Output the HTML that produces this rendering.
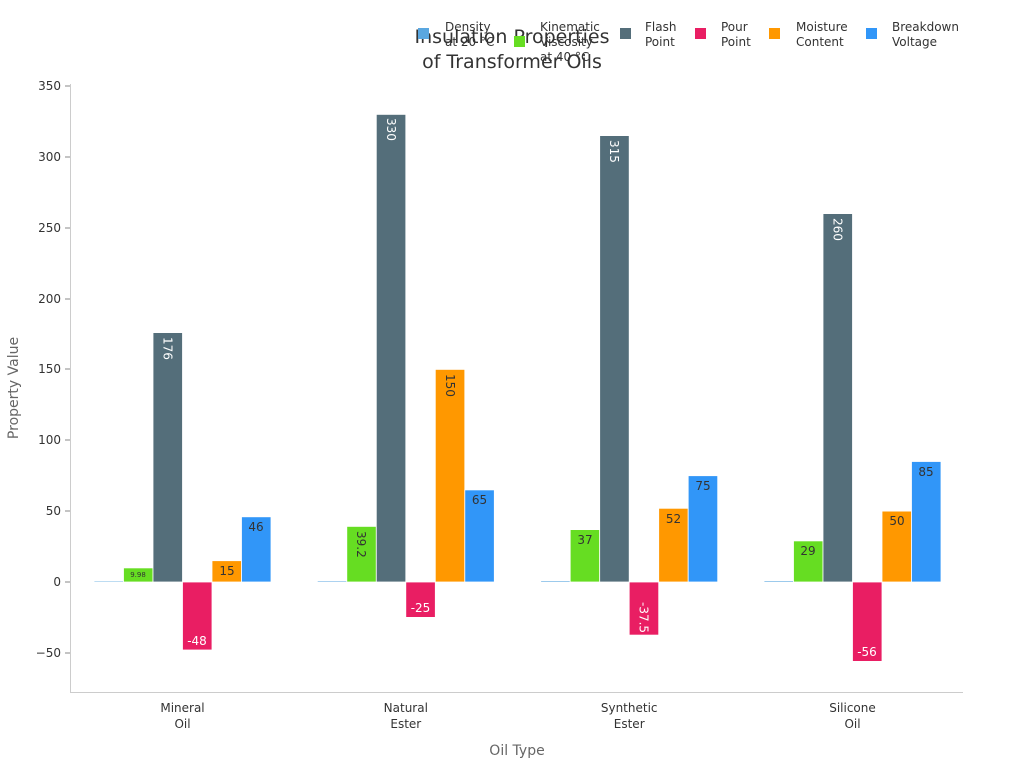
<!DOCTYPE html>
<html><head><meta charset="utf-8"><style>
body{margin:0;background:#fff;}
svg{display:block;font-family:"DejaVu Sans","Liberation Sans",sans-serif;}
</style></head><body>
<svg width="1024" height="768" viewBox="0 0 1024 768" xmlns="http://www.w3.org/2000/svg">
<rect width="1024" height="768" fill="#fff"/>
<line x1="70.5" y1="84" x2="70.5" y2="692" stroke="#ccc"/>
<line x1="70" y1="692.5" x2="963" y2="692.5" stroke="#ccc"/>
<g font-size="12" fill="#333" text-anchor="end">
<line x1="65" x2="70" y1="86" y2="86" stroke="#888"/><text x="61" y="90">350</text>
<line x1="65" x2="70" y1="157" y2="157" stroke="#888"/><text x="61" y="161">300</text>
<line x1="65" x2="70" y1="228" y2="228" stroke="#888"/><text x="61" y="232">250</text>
<line x1="65" x2="70" y1="299" y2="299" stroke="#888"/><text x="61" y="303">200</text>
<line x1="65" x2="70" y1="369" y2="369" stroke="#888"/><text x="61" y="373">150</text>
<line x1="65" x2="70" y1="440" y2="440" stroke="#888"/><text x="61" y="444">100</text>
<line x1="65" x2="70" y1="511" y2="511" stroke="#888"/><text x="61" y="515">50</text>
<line x1="65" x2="70" y1="582" y2="582" stroke="#888"/><text x="61" y="586">0</text>
<line x1="65" x2="70" y1="653" y2="653" stroke="#888"/><text x="61" y="657">−50</text>
</g>
<g font-size="12" fill="#333" text-anchor="middle">
<text x="182.5" y="712">Mineral</text><text x="182.5" y="728">Oil</text>
<text x="405.8" y="712">Natural</text><text x="405.8" y="728">Ester</text>
<text x="629.2" y="712">Synthetic</text><text x="629.2" y="728">Ester</text>
<text x="852.5" y="712">Silicone</text><text x="852.5" y="728">Oil</text>
</g>
<text x="517" y="755" font-size="14" fill="#666" text-anchor="middle">Oil Type</text>
<text transform="translate(18,388) rotate(-90)" font-size="14" fill="#666" text-anchor="middle">Property Value</text>
<g stroke="#fff" stroke-width="0.8">
<rect x="94" y="580.8" width="29.5" height="1.2" fill="#5aa7e0"/>
<rect x="123.5" y="567.9" width="29.5" height="14.1" fill="#66dd22"/>
<rect x="153" y="332.6" width="29.5" height="249.4" fill="#546e7a"/>
<rect x="182.5" y="582" width="29.5" height="68" fill="#e91e63"/>
<rect x="212" y="560.7" width="29.5" height="21.3" fill="#ff9800"/>
<rect x="241.5" y="516.8" width="29.5" height="65.2" fill="#3196f8"/>

<rect x="317.3" y="580.7" width="29.5" height="1.3" fill="#5aa7e0"/>
<rect x="346.8" y="526.4" width="29.5" height="55.6" fill="#66dd22"/>
<rect x="376.3" y="114.4" width="29.5" height="467.6" fill="#546e7a"/>
<rect x="405.8" y="582" width="29.5" height="35.4" fill="#e91e63"/>
<rect x="435.3" y="369.4" width="29.5" height="212.6" fill="#ff9800"/>
<rect x="464.8" y="489.9" width="29.5" height="92.1" fill="#3196f8"/>

<rect x="540.7" y="580.6" width="29.5" height="1.4" fill="#5aa7e0"/>
<rect x="570.2" y="529.6" width="29.5" height="52.4" fill="#66dd22"/>
<rect x="599.7" y="135.6" width="29.5" height="446.4" fill="#546e7a"/>
<rect x="629.2" y="582" width="29.5" height="53.1" fill="#e91e63"/>
<rect x="658.7" y="508.3" width="29.5" height="73.7" fill="#ff9800"/>
<rect x="688.2" y="475.7" width="29.5" height="106.3" fill="#3196f8"/>

<rect x="764" y="580.6" width="29.5" height="1.4" fill="#5aa7e0"/>
<rect x="793.5" y="540.9" width="29.5" height="41.1" fill="#66dd22"/>
<rect x="823" y="213.6" width="29.5" height="368.4" fill="#546e7a"/>
<rect x="852.5" y="582" width="29.5" height="79.4" fill="#e91e63"/>
<rect x="882" y="511.1" width="29.5" height="70.9" fill="#ff9800"/>
<rect x="911.5" y="461.5" width="29.5" height="120.5" fill="#3196f8"/>
</g>
<g font-size="12" text-anchor="middle">
<text x="138" y="577" font-size="7" fill="#333">9.98</text>
<text transform="translate(163.5,337) rotate(90)" fill="#fff" text-anchor="start">176</text>
<text x="197" y="645" fill="#fff">-48</text>
<text x="227" y="575" fill="#333">15</text>
<text x="256" y="531" fill="#333">46</text>

<text transform="translate(357,531) rotate(90)" fill="#333" text-anchor="start">39.2</text>
<text transform="translate(386.8,118) rotate(90)" fill="#fff" text-anchor="start">330</text>
<text x="420.5" y="612" fill="#fff">-25</text>
<text transform="translate(445.8,374) rotate(90)" fill="#333" text-anchor="start">150</text>
<text x="479.5" y="504" fill="#333">65</text>

<text x="585" y="544" fill="#333">37</text>
<text transform="translate(610.2,140) rotate(90)" fill="#fff" text-anchor="start">315</text>
<text transform="translate(639.7,602) rotate(90)" fill="#fff" text-anchor="start">-37.5</text>
<text x="673.5" y="523" fill="#333">52</text>
<text x="703" y="490" fill="#333">75</text>

<text x="808" y="555" fill="#333">29</text>
<text transform="translate(833.5,218) rotate(90)" fill="#fff" text-anchor="start">260</text>
<text x="867" y="656" fill="#fff">-56</text>
<text x="897" y="525" fill="#333">50</text>
<text x="926" y="476" fill="#333">85</text>
</g>
<g font-size="19" fill="#333" text-anchor="middle">
<text x="512" y="43">Insulation Properties</text>
<text x="512" y="68">of Transformer Oils</text>
</g>
<g font-size="12" fill="#333">
<rect x="418" y="28" width="11" height="11" fill="#5aa7e0"/><text x="445" y="31">Density</text><text x="445" y="46">at 20 °C</text>
<rect x="514" y="36" width="11" height="11" fill="#66dd22"/><text x="540" y="31">Kinematic</text><text x="540" y="46">Viscosity</text><text x="540" y="61">at 40 °C</text>
<rect x="620" y="28" width="11" height="11" fill="#546e7a"/><text x="645" y="31">Flash</text><text x="645" y="46">Point</text>
<rect x="695" y="28" width="11" height="11" fill="#e91e63"/><text x="721" y="31">Pour</text><text x="721" y="46">Point</text>
<rect x="769" y="28" width="11" height="11" fill="#ff9800"/><text x="796" y="31">Moisture</text><text x="796" y="46">Content</text>
<rect x="866" y="28" width="11" height="11" fill="#3196f8"/><text x="892" y="31">Breakdown</text><text x="892" y="46">Voltage</text>
</g>
</svg>
</body></html>
